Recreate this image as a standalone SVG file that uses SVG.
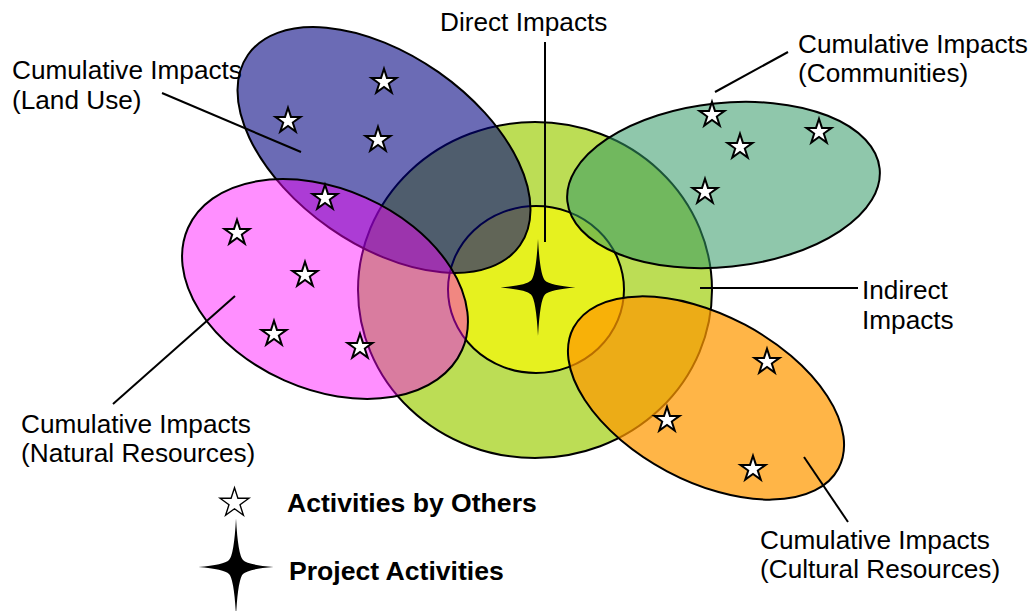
<svg xmlns="http://www.w3.org/2000/svg" xmlns:xlink="http://www.w3.org/1999/xlink" width="1035" height="611" viewBox="0 0 1035 611">
<style>
.lbl{font-family:"Liberation Sans",Arial,sans-serif;font-size:26.2px;fill:#000}
.leg{font-family:"Liberation Sans",Arial,sans-serif;font-size:26.6px;font-weight:bold;fill:#000}
.shape{stroke:#000;stroke-width:2}
.con{stroke:#000;stroke-width:2;fill:none}
.star{fill:#fff;stroke:#000;stroke-width:2}
</style>
<defs>
<path id="star5" d="M0,-13.2 L2.97,-4.08 L12.55,-4.08 L4.8,1.56 L7.76,10.68 L0,5.04 L-7.76,10.68 L-4.8,1.56 L-12.55,-4.08 L-2.97,-4.08 Z"/>
<path id="star4" d="M0,-48.5 Q2,-12 7,-7 Q12,-2 37.5,0 Q12,2 7,7 Q2,12 0,48.5 Q-2,12 -7,7 Q-12,2 -37.5,0 Q-12,-2 -7,-7 Q-2,-12 0,-48.5 Z"/>
</defs>
<g id="node-indirect">
<ellipse class="shape" cx="535" cy="290" rx="177" ry="168" fill="#bcdd55"/>
</g>
<g id="node-direct">
<ellipse class="shape" cx="536" cy="289.5" rx="88" ry="83.5" fill="#e6f11f"/>
</g>
<g id="node-landuse">
<ellipse class="shape" cx="384" cy="150" rx="166" ry="95" transform="rotate(35 384 150)" fill="#000080" fill-opacity="0.58"/>
</g>
<g id="node-natural">
<ellipse class="shape" cx="325" cy="289" rx="150" ry="100" transform="rotate(24 325 289)" fill="#ff00ff" fill-opacity="0.44"/>
</g>
<g id="node-communities">
<ellipse class="shape" cx="723.5" cy="185" rx="157" ry="82" transform="rotate(-6 723.5 185)" fill="#339966" fill-opacity="0.55"/>
</g>
<g id="node-cultural">
<ellipse class="shape" cx="706" cy="398" rx="150" ry="83" transform="rotate(28 706 398)" fill="#ff9900" fill-opacity="0.72"/>
</g>
<g id="activities">
<use xlink:href="#star5" class="star" x="384" y="82"/>
<use xlink:href="#star5" class="star" x="288" y="121"/>
<use xlink:href="#star5" class="star" x="378" y="140"/>
<use xlink:href="#star5" class="star" x="325" y="198"/>
<use xlink:href="#star5" class="star" x="237" y="233"/>
<use xlink:href="#star5" class="star" x="305" y="275"/>
<use xlink:href="#star5" class="star" x="274" y="334"/>
<use xlink:href="#star5" class="star" x="360" y="347"/>
<use xlink:href="#star5" class="star" x="712" y="115"/>
<use xlink:href="#star5" class="star" x="740" y="147"/>
<use xlink:href="#star5" class="star" x="819" y="132"/>
<use xlink:href="#star5" class="star" x="705" y="192"/>
<use xlink:href="#star5" class="star" x="767" y="362"/>
<use xlink:href="#star5" class="star" x="667" y="420"/>
<use xlink:href="#star5" class="star" x="753" y="469"/>
</g>
<g id="connectors">
<line class="con" x1="545" y1="42" x2="545" y2="242"/>
<line class="con" x1="162" y1="93" x2="301" y2="152"/>
<line class="con" x1="113" y1="404" x2="235" y2="296"/>
<line class="con" x1="715" y1="92" x2="788" y2="52"/>
<line class="con" x1="700" y1="288" x2="858" y2="288"/>
<line class="con" x1="804" y1="457" x2="848" y2="522"/>
</g>
<g id="project">
<use xlink:href="#star4" x="538" y="287.5" fill="#000"/>
</g>
<g id="labels">
<text class="lbl" x="440" y="31">Direct Impacts</text>
<text class="lbl" x="12" y="79">Cumulative Impacts</text>
<text class="lbl" x="12" y="108.5">(Land Use)</text>
<text class="lbl" x="21" y="433">Cumulative Impacts</text>
<text class="lbl" x="21" y="462">(Natural Resources)</text>
<text class="lbl" x="798" y="53">Cumulative Impacts</text>
<text class="lbl" x="798" y="82">(Communities)</text>
<text class="lbl" x="862" y="299">Indirect</text>
<text class="lbl" x="862" y="329">Impacts</text>
<text class="lbl" x="760" y="549">Cumulative Impacts</text>
<text class="lbl" x="760" y="578">(Cultural Resources)</text>
</g>
<g id="legend">
<use xlink:href="#star5" x="234.5" y="503" transform="translate(234.5 503) scale(1.15) translate(-234.5 -503)" fill="#fff" stroke="#000" stroke-width="1.2"/>
<text class="leg" x="287" y="512">Activities by Others</text>
<use xlink:href="#star4" x="236" y="567" fill="#000"/>
<text class="leg" x="289" y="580">Project Activities</text>
</g>
</svg>
